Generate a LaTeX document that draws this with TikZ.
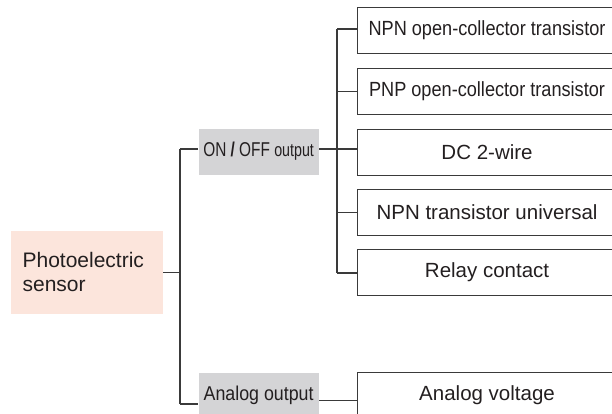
\documentclass[tikz,border=0pt]{standalone}
\usepackage{fontspec}
\setmainfont{Liberation Sans}
\newfontfamily\narrowA[FakeStretch=0.77]{Liberation Sans}
\newfontfamily\narrowB[FakeStretch=0.885]{Liberation Sans}
\newfontfamily\narrowC[FakeStretch=0.89]{Liberation Sans}
\definecolor{pinkfill}{HTML}{FCE5DC}
\definecolor{grayfill}{HTML}{D4D4D6}
\definecolor{linec}{HTML}{3A3A3A}
\definecolor{txt}{HTML}{231F20}
\begin{document}
\begin{tikzpicture}[x=1pt,y=-1pt,line width=1.2pt,
  every node/.style={text=txt},
  conn/.style={draw=linec,line width=1.2pt},
  srcbox/.style={fill=pinkfill,draw=none,minimum width=152pt,minimum height=83pt,
    inner xsep=12pt,inner ysep=0pt,text width=128pt,align=left,anchor=north west,
    font=\fontsize{21}{24.3}\selectfont},
  grpbox/.style={fill=grayfill,draw=none,minimum width=120pt,minimum height=46pt,
    inner sep=0pt,anchor=north west},
  leafbox/.style={draw=linec,line width=1.1pt,minimum width=259pt,minimum height=46pt,
    inner sep=0pt,anchor=north west,font=\fontsize{20.5}{24}\selectfont}]
\useasboundingbox (0,0) rectangle (612,414);
\clip (0,0) rectangle (612,414);

\node[srcbox] (src) at (10,230) {Photoelectric\\sensor};
\node[grpbox] (onoff) at (198,128) {\narrowA\fontsize{20}{24}\selectfont ON \textbf{/} OFF {\fontsize{18.5}{22}\selectfont output}};
\node[grpbox] (analog) at (198,372) {\narrowC\fontsize{20}{24}\selectfont Analog output};

\node[leafbox] (l1) at (357,7) {\narrowB NPN open-collector transistor};
\node[leafbox] (l2) at (357,68) {\narrowB PNP open-collector transistor};
\node[leafbox] (l3) at (357,129) {DC 2-wire};
\node[leafbox] (l4) at (357,189) {NPN transistor universal};
\node[leafbox] (l5) at (357,249) {Relay contact};
\node[leafbox] (v1) at (357,372) {Analog voltage};

\coordinate (t1) at (180,149);
\coordinate (t2) at (180,404);
\coordinate (u1) at (337,29);
\coordinate (u2) at (337,273);

\draw[conn] (src.east) -- (src.east -| t1);
\draw[conn] (t1) -- (t2);
\draw[conn] (t1) -- (t1 -| onoff.west);
\draw[conn] (t2) -- (t2 -| analog.west);
\draw[conn] (t1 -| onoff.east) -- (t1 -| u1);
\draw[conn] (u1) -- (u2);
\draw[conn] (u1) -- (u1 -| l1.west);
\draw[conn] (l2.west -| u1) -- (l2.west);
\draw[conn] (t1 -| u1) -- (t1 -| l3.west);
\draw[conn] (l4.west -| u1) -- (l4.west);
\draw[conn] (u2) -- (u2 -| l5.west);
\draw[conn] ([yshift=-5pt]analog.east) -- ([yshift=-5pt]analog.east -| v1.west);
\end{tikzpicture}
\end{document}
